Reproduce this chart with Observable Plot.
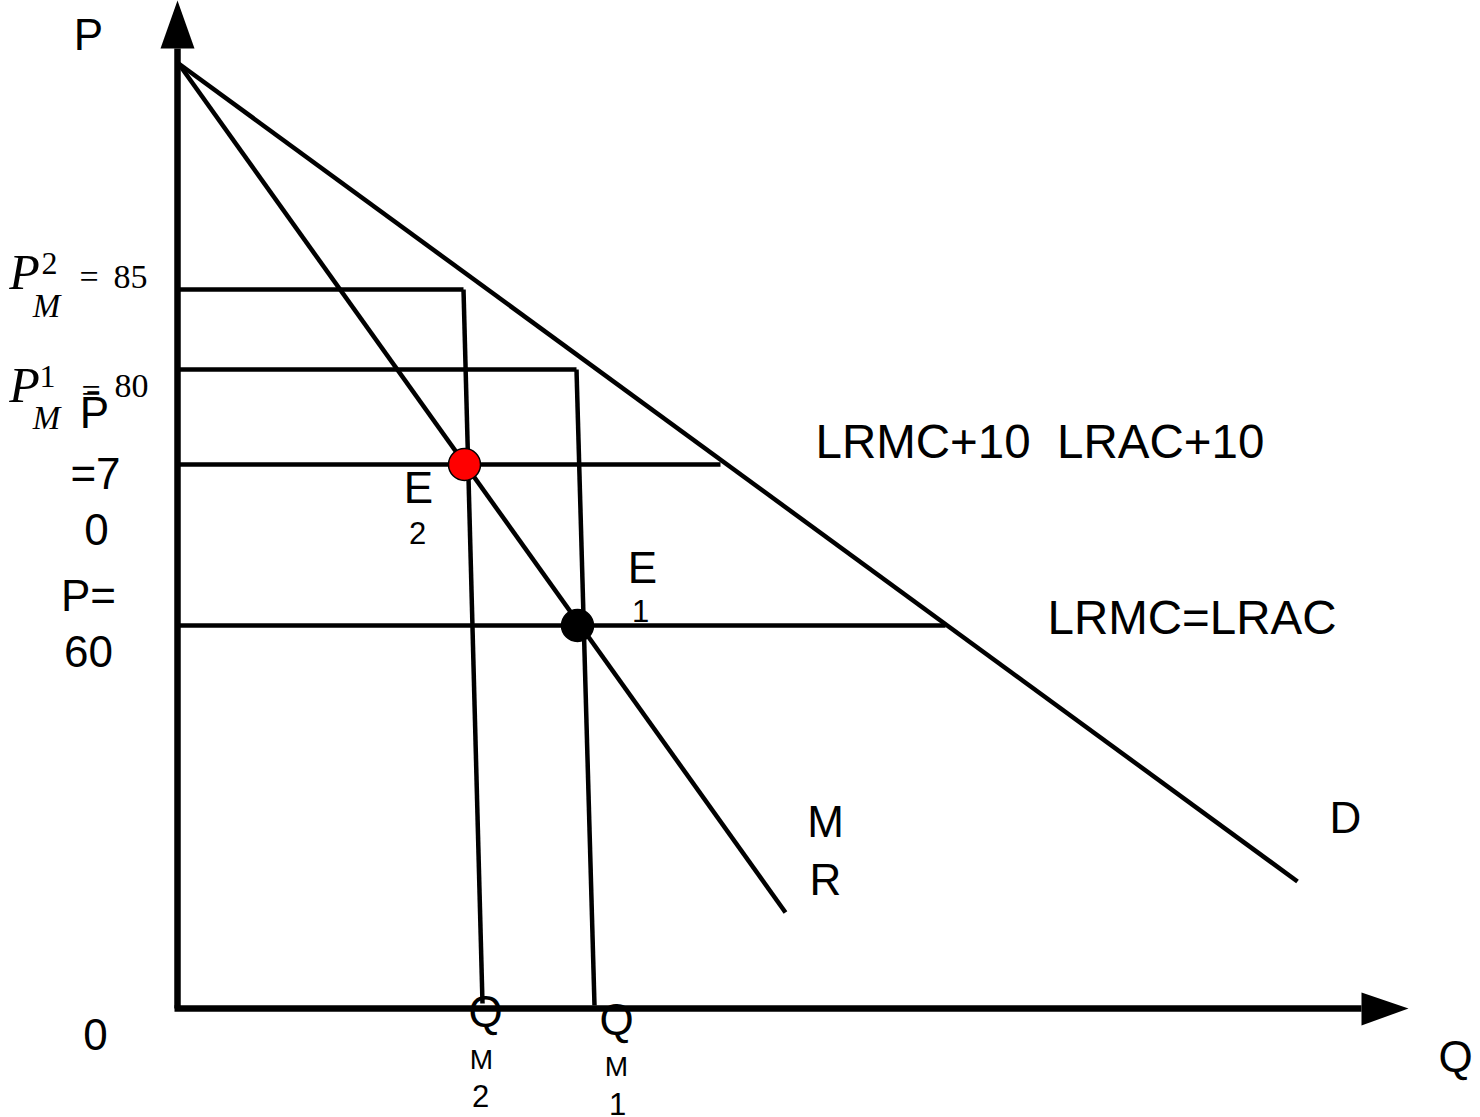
<!DOCTYPE html>
<html><head><meta charset="utf-8">
<script src="https://cdn.jsdelivr.net/npm/d3@7"></script>
<script src="https://cdn.jsdelivr.net/npm/@observablehq/plot@0.6"></script>
<style>html,body{margin:0;padding:0;background:#fff}svg{display:block}</style>
</head><body><div id="chart"></div>
<script>
// Diagram units: Q to the right of the origin, P above it.
const demandQ = [1, 1120];
const demandP = [945, 127];
const mrQ = [1, 608];
const mrP = [945, 96];
// price levels: P_M^2 = 85, P_M^1 = 80, P̄ = 70, P = 60
const priceLevels = [719, 639, 544, 383];
const priceLineEndQ = [286, 399, 543, 768];
// output lines Q_M2, Q_M1
const outputTopQ = [286, 399];
const outputTopP = [719, 639];
const outputBottomQ = [305, 417];
const outputBottomP = [5, 3];
// equilibria E2, E1
const eqQ = [287, 400];
const eqP = [544, 383];
const eqFill = ["#ff0000", "#000000"];
// axes
const axisTopP = 960, axisEndQ = 1184;
const yArrowQ = [-17, 0, 17], yArrowP = [960, 1008, 960];
const xArrowQ = [1184, 1231, 1184], xArrowP = [16, 0, -17];

const sansLabels = [
  {t: "P", q: -89, p: 973, s: 44},
  {t: "Q", q: 1278, p: -49, s: 44},
  {t: "0", q: -82, p: -27, s: 44},
  {t: "D", q: 1168, p: 190, s: 44},
  {t: "M", q: 648, p: 186, s: 44},
  {t: "R", q: 648, p: 128, s: 44},
  {t: "E", q: 241, p: 520, s: 44},
  {t: "2", q: 240, p: 474, s: 31},
  {t: "E", q: 465, p: 440, s: 44},
  {t: "1", q: 463, p: 396, s: 31},
  {t: "Q", q: 308, p: -4, s: 44},
  {t: "M", q: 304, p: -52, s: 28},
  {t: "2", q: 303, p: -89, s: 31},
  {t: "Q", q: 439, p: -12, s: 44},
  {t: "M", q: 439, p: -59, s: 28},
  {t: "1", q: 440, p: -97, s: 31},
  {t: "P\u0304", q: -83, p: 595, s: 44},
  {t: "=7", q: -82, p: 534, s: 44},
  {t: "0", q: -81, p: 478, s: 44},
  {t: "P=", q: -89, p: 412, s: 44},
  {t: "60", q: -89, p: 356, s: 44}
];
const curveLabels = [
  {t: "LRMC+10\u00a0\u00a0LRAC+10", q: 638, p: 566},
  {t: "LRMC=LRAC", q: 870, p: 390}
];
const serifLabels = [
  {t: "P", q: -153, p: 736, s: 50, st: "italic", a: "middle"},
  {t: "2", q: -128, p: 745, s: 32, st: "normal", a: "middle"},
  {t: "M", q: -131, p: 702, s: 33, st: "italic", a: "middle"},
  {t: "=", q: -98, p: 731, s: 34, st: "normal", a: "start"},
  {t: "85", q: -64, p: 731, s: 34, st: "normal", a: "start"},
  {t: "P", q: -153, p: 623, s: 50, st: "italic", a: "middle"},
  {t: "1", q: -130, p: 632, s: 32, st: "normal", a: "middle"},
  {t: "M", q: -131, p: 590, s: 33, st: "italic", a: "middle"},
  {t: "=", q: -96, p: 617, s: 34, st: "normal", a: "start"},
  {t: "80", q: -63, p: 622, s: 34, st: "normal", a: "start"}
];

const segments = [
  {q1: demandQ[0], p1: demandP[0], q2: demandQ[1], p2: demandP[1]},
  {q1: mrQ[0], p1: mrP[0], q2: mrQ[1], p2: mrP[1]},
  ...priceLevels.map((p, i) => ({q1: 0, p1: p, q2: priceLineEndQ[i], p2: p})),
  ...outputTopQ.map((q, i) => ({q1: q, p1: outputTopP[i], q2: outputBottomQ[i], p2: outputBottomP[i]}))
];
const axes = [
  {q1: 0, p1: 0, q2: 0, p2: axisTopP},
  {q1: -3, p1: 0, q2: axisEndQ, p2: 0}
];
const arrows = [
  ...yArrowQ.map((q, i) => ({id: "y", q, p: yArrowP[i]})),
  ...xArrowQ.map((q, i) => ({id: "x", q, p: xArrowP[i]}))
];
const eq = eqQ.map((q, i) => ({q, p: eqP[i], f: eqFill[i]}));

const chart = Plot.plot({
  width: 1480, height: 1117,
  margin: 0,
  x: {domain: [-177, 1303], axis: null},
  y: {domain: [-109, 1008], axis: null},
  style: {background: "#fff"},
  marks: [
    Plot.link(segments, {x1: "q1", y1: "p1", x2: "q2", y2: "p2", stroke: "#000", strokeWidth: 4.5, strokeLinecap: "butt"}),
    Plot.link(axes, {x1: "q1", y1: "p1", x2: "q2", y2: "p2", stroke: "#000", strokeWidth: 6.5, strokeLinecap: "butt"}),
    Plot.line(arrows, {x: "q", y: "p", z: "id", fill: "#000", stroke: "none"}),
    Plot.dot(eq, {x: "q", y: "p", r: 16, fill: "f", stroke: "#000", strokeWidth: 1.5}),
    Plot.text(sansLabels, {x: "q", y: "p", text: "t", fontSize: d => d.s, fontFamily: "Liberation Sans, Arial, sans-serif", fill: "#000"}),
    Plot.text(curveLabels, {x: "q", y: "p", text: "t", fontSize: 47.5, textAnchor: "start", fontFamily: "Liberation Sans, Arial, sans-serif", fill: "#000"}),
    ...serifLabels.map(d => Plot.text([d], {x: "q", y: "p", text: "t", fontSize: d.s, fontStyle: d.st, textAnchor: d.a, fontFamily: "Liberation Serif, Times New Roman, serif", fill: "#000"}))
  ]
});
document.getElementById("chart").appendChild(chart);
</script></body></html>
